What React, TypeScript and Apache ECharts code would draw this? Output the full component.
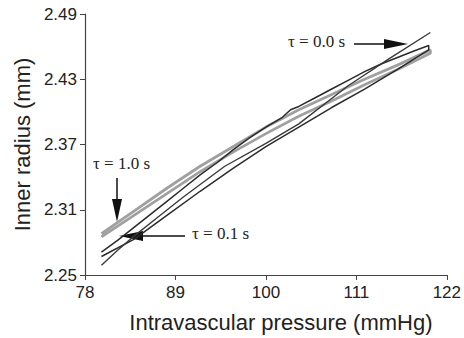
import { useEffect, useRef } from "react";
import * as echarts from "echarts";

// Axis ticks
const xTicks = [78, 89, 100, 111, 122];
const yTicks = [2.25, 2.31, 2.37, 2.43, 2.49];

// tau = 0.0 s curve (dark, single line)
const tau00P = [80, 82, 84, 87, 90, 95, 100, 104, 110, 115, 120];
const tau00R = [2.259, 2.273, 2.286, 2.304, 2.322, 2.350, 2.371, 2.389, 2.424, 2.449, 2.473];

// tau = 0.1 s loop (dark) : upper branch then lower branch
const tau01UpP = [80, 82, 84, 86, 88, 90, 92, 94, 96, 98, 100, 102, 103, 104, 106, 108, 110, 112, 114, 116, 118, 119.8];
const tau01UpR = [2.271, 2.282, 2.294, 2.306, 2.318, 2.330, 2.342, 2.353, 2.365, 2.376, 2.386, 2.395, 2.402, 2.405, 2.413, 2.421, 2.429, 2.437, 2.444, 2.450, 2.456, 2.461];
const tau01LoP = [119.8, 116, 112, 108, 104, 100, 96, 92, 88, 84, 80];
const tau01LoR = [2.457, 2.439, 2.421, 2.404, 2.386, 2.368, 2.348, 2.327, 2.305, 2.283, 2.267];

// tau = 1.0 s loop (gray)
const tau10UpP = [80, 84, 88, 92, 96, 100, 104, 108, 112, 116, 120];
const tau10UpR = [2.288, 2.309, 2.330, 2.350, 2.368, 2.386, 2.402, 2.416, 2.430, 2.443, 2.457];
const tau10LoP = [120, 116, 112, 108, 104, 100, 96, 92, 88, 84, 80];
const tau10LoR = [2.454, 2.439, 2.425, 2.410, 2.396, 2.380, 2.363, 2.345, 2.325, 2.305, 2.285];

// Annotation labels
const labels = ["τ = 0.0 s", "τ = 1.0 s", "τ = 0.1 s"];

const X0 = xTicks[0];
const Y0 = yTicks[0];
const XI = xTicks[1] - xTicks[0];
const YI = +(yTicks[1] - yTicks[0]).toFixed(2);

function pts(P: number[], R: number[]) {
  return P.map((p, i) => [p - X0, +(R[i] - Y0).toFixed(4)]);
}

export default function App() {
  const ref = useRef<HTMLDivElement>(null);
  useEffect(() => {
    if (!ref.current) return;
    const chart = echarts.init(ref.current, null, { renderer: "svg" });
    const dark = "#2b2b2b";
    const gray = "#a0a0a0";
    const serif = "Liberation Serif";
    const arrowColor = "#111";
    chart.setOption({
      animation: false,
      backgroundColor: "#fff",
      grid: { left: 85, right: 14, top: 14, bottom: 63 },
      xAxis: {
        type: "value",
        min: 0,
        max: xTicks[xTicks.length - 1] - X0,
        interval: XI,
        name: "Intravascular pressure (mmHg)",
        nameLocation: "middle",
        nameGap: 36,
        nameTextStyle: { fontFamily: "Liberation Sans", fontSize: 22, color: "#222", padding: [0, 0, 0, 30] },
        axisLine: { lineStyle: { color: "#444", width: 1.2 } },
        axisTick: { show: true, inside: false, length: 5, lineStyle: { color: "#444" } },
        axisLabel: { formatter: (v: number) => String(Math.round(v + X0)), fontFamily: "Liberation Sans", fontSize: 17, color: "#222", margin: 9 },
        splitLine: { show: false },
      },
      yAxis: {
        type: "value",
        min: 0,
        max: +(yTicks[yTicks.length - 1] - Y0).toFixed(2),
        interval: YI,
        name: "Inner radius (mm)",
        nameLocation: "middle",
        nameGap: 50,
        nameTextStyle: { fontFamily: "Liberation Sans", fontSize: 22, color: "#222" },
        axisLine: { show: true, lineStyle: { color: "#444", width: 1.2 } },
        axisTick: { show: true, inside: false, length: 5, lineStyle: { color: "#444" } },
        axisLabel: { formatter: (v: number) => (v + Y0).toFixed(2), fontFamily: "Liberation Sans", fontSize: 17, color: "#222", margin: 8 },
        splitLine: { show: false },
      },
      series: [
        { type: "line", data: pts(tau10UpP.concat(tau10LoP), tau10UpR.concat(tau10LoR)), showSymbol: false, lineStyle: { color: gray, width: 2.8 }, z: 2 },
        { type: "line", data: pts(tau01UpP.concat(tau01LoP), tau01UpR.concat(tau01LoR)), showSymbol: false, lineStyle: { color: dark, width: 1.5 }, z: 3 },
        { type: "line", data: pts(tau00P, tau00R), showSymbol: false, lineStyle: { color: "#3a3a3a", width: 1.4 }, z: 3 },
      ],
      graphic: [
        { type: "text", left: 288, top: 33, style: { text: labels[0], font: `17px "${serif}"`, fill: "#222" } },
        { type: "line", shape: { x1: 354, y1: 44, x2: 390, y2: 44 }, style: { stroke: arrowColor, lineWidth: 1.5 } },
        { type: "polygon", shape: { points: [[384, 39], [408, 44], [384, 49]] }, style: { fill: arrowColor } },

        { type: "text", left: 93, top: 155, style: { text: labels[1], font: `17px "${serif}"`, fill: "#222" } },
        { type: "line", shape: { x1: 117, y1: 178, x2: 117, y2: 205 }, style: { stroke: arrowColor, lineWidth: 1.5 } },
        { type: "polygon", shape: { points: [[112, 199], [117, 222], [122, 199]] }, style: { fill: arrowColor } },

        { type: "text", left: 192, top: 225, style: { text: labels[2], font: `17px "${serif}"`, fill: "#222" } },
        { type: "line", shape: { x1: 185, y1: 236, x2: 138, y2: 236 }, style: { stroke: arrowColor, lineWidth: 1.5 } },
        { type: "polygon", shape: { points: [[143, 231], [119, 236], [143, 241]] }, style: { fill: arrowColor } },
      ],
    });
    return () => chart.dispose();
  }, []);
  return <div ref={ref} style={{ position: "fixed", left: 0, top: 0, width: 464, height: 338 }} />;
}
